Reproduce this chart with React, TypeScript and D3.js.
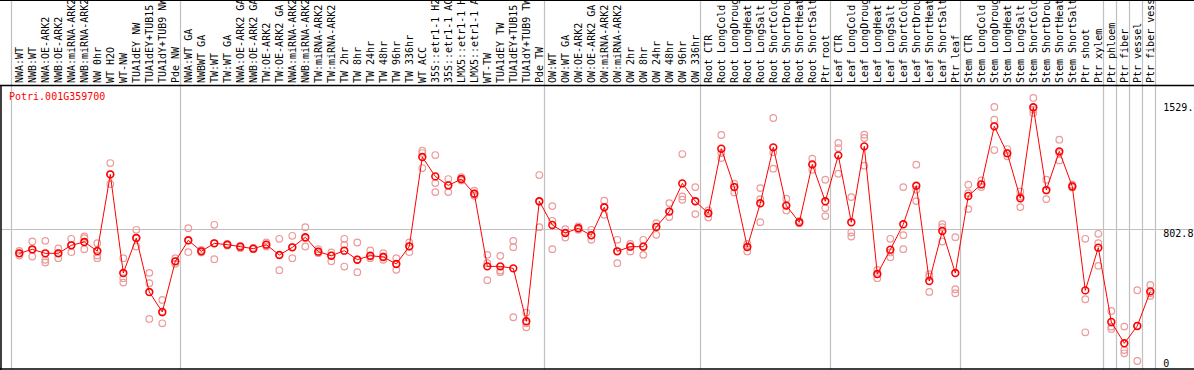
import * as d3 from 'd3';
import React, { useEffect, useRef } from 'react';

const geneId = 'Potri.001G359700';

const labels = [
  'NWA:WT', 'NWB:WT', 'NWA:OE-ARK2', 'NWB:OE-ARK2', 'NWA:miRNA-ARK2', 'NWB:miRNA-ARK2',
  'NW 0hr', 'WT H2O', 'WT-NW', 'TUA1dEY NW', 'TUA1dEY+TUB15 NW', 'TUA1dY+TUB9 NW', 'Pde NW',
  'NWA:WT GA', 'NWBWT GA', 'TW:WT', 'TW:WT GA', 'NWA:OE-ARK2 GA', 'NWB:OE-ARK2 GA',
  'TW:OE-ARK2', 'TW:OE-ARK2 GA', 'NWA:miRNA-ARK2', 'NWB:miRNA-ARK2', 'TW:miRNA-ARK2',
  'TW:miRNA-ARK2', 'TW 2hr', 'TW 8hr', 'TW 24hr', 'TW 48hr', 'TW 96hr', 'TW 336hr', 'WT ACC',
  '35S::etr1-1 H2O', '35S::etr1-1 ACC', 'LMX5::etr1-1 H2O', 'LMX5::etr1-1 ACC', 'WT-TW',
  'TUA1dEY TW', 'TUA1dEY+TUB15 TW', 'TUA1dY+TUB9 TW', 'Pde TW',
  'OW:WT', 'OW:WT GA', 'OW:OE-ARK2', 'OW:OE-ARK2 GA', 'OW:miRNA-ARK2', 'OW:miRNA-ARK2',
  'OW 2hr', 'OW 8hr', 'OW 24hr', 'OW 48hr', 'OW 96hr', 'OW 336hr',
  'Root CTR', 'Root LongCold', 'Root LongDrought', 'Root LongHeat', 'Root LongSalt',
  'Root ShortCold', 'Root ShortDrought', 'Root ShortHeat', 'Root ShortSalt', 'Ptr root',
  'Leaf CTR', 'Leaf LongCold', 'Leaf LongDrought', 'Leaf LongHeat', 'Leaf LongSalt',
  'Leaf ShortCold', 'Leaf ShortDrought', 'Leaf ShortHeat', 'Leaf ShortSalt', 'Ptr leaf',
  'Stem CTR', 'Stem LongCold', 'Stem LongDrought', 'Stem LongHeat', 'Stem LongSalt',
  'Stem ShortCold', 'Stem ShortDrought', 'Stem ShortHeat', 'Stem ShortSalt',
  'Ptr shoot', 'Ptr xylem', 'Ptr phloem', 'Ptr fiber', 'Ptr vessel', 'Ptr fiber vessel',
];

// mean expression per sample
const meanValues = [
  654, 678, 654, 654, 702, 722, 668, 1127, 536, 746, 422, 303, 606,
  732, 666, 714, 706, 694, 682, 706, 644, 690, 750, 664, 640, 670, 616, 640, 632, 590, 696,
  1231, 1115, 1061, 1099, 1011, 576, 576, 564, 247, 966,
  824, 776, 804, 762, 930, 666, 694, 694, 812, 904, 1073, 966,
  894, 1281, 1051, 692, 954, 1289, 940, 840, 1187, 966,
  1241, 840, 1295, 530, 676, 828, 1059, 488, 788, 536,
  998, 1067, 1415, 1253, 984, 1529, 1033, 1265, 1055,
  432, 688, 243, 115, 219, 426,
];

// replicate values per sample
const replicateValues = [
  [669, 655, 641], [725, 675, 635], [729, 615, 599], [683, 655, 625], [741, 703, 661],
  [755, 745, 679], [715, 641, 625], [1195, 1129, 1069], [625, 505, 479], [795, 747, 695],
  [537, 475, 261], [375, 299, 235], [625, 607, 591], [805, 731, 661], [675, 667, 659],
  [825, 715, 619], [711, 707, 701], [699, 695, 685], [687, 683, 679], [719, 707, 695],
  [741, 645, 553], [759, 691, 625], [811, 745, 695], [679, 665, 655], [659, 641, 607],
  [741, 705, 575], [719, 617, 541], [671, 635, 625], [655, 635, 615], [625, 591, 555],
  [719, 695, 661], [1269, 1255, 1165], [1243, 1075, 1021], [1099, 1063, 1021], [1111, 1101, 1091],
  [1029, 1013, 999], [645, 595, 493], [639, 551, 541], [729, 691, 271], [299, 235, 211],
  [1123, 963, 811], [937, 849, 679], [799, 777, 749], [815, 805, 795], [795, 763, 735],
  [969, 931, 885], [735, 667, 595], [711, 695, 665], [735, 695, 645], [835, 813, 765],
  [955, 905, 871], [1249, 995, 975], [1051, 967, 889], [911, 895, 869], [1363, 1255, 1225],
  [1071, 1053, 1019], [711, 693, 665], [1045, 979, 841], [1465, 1259, 1161], [981, 941, 911],
  [849, 841, 835], [1221, 1185, 1155], [1095, 925, 877], [1315, 1285, 1131], [991, 779, 755],
  [1365, 1345, 1179], [555, 529, 505], [741, 659, 631], [1051, 763, 679], [1185, 1035, 967],
  [529, 515, 423], [829, 811, 725], [751, 439, 415], [1065, 1015, 919], [1091, 1069, 1051],
  [1531, 1455, 1273], [1279, 1255, 1235], [1025, 995, 931], [1585, 1515, 1495], [1095, 1031, 979],
  [1335, 1255, 1211], [1065, 1057, 1049], [741, 379, 181], [771, 715, 579], [309, 215, 201],
  [215, 75, 55], [433, 219, 9], [465, 415, 399],
];

// sample index where each gray group separator sits
const groupStarts = [0, 13, 41, 53, 63, 73, 84, 85, 86, 87, 88];

const yTicks = [1529.4, 802.8, 0];
const yTickLabels = ['1529.4', '802.8', '0'];

const App = () => {
  const ref = useRef(null);

  useEffect(() => {
    const width = 1194, height = 370;
    const headerBottom = 85.5;
    const plotRight = 1155.3;
    const mono = '"DejaVu Sans Mono", monospace';

    const svg = d3.select(ref.current);
    svg.selectAll('*').remove();
    svg.attr('width', width).attr('height', height);

    svg.append('rect').attr('width', width).attr('height', height).attr('fill', '#fff');

    const x = d3.scaleBand()
      .domain(d3.range(labels.length))
      .range([11.3, plotRight]);
    const px = i => x(i) + 8;

    const y = d3.scaleLinear().domain([0, 1529]).range([362.5, 107.3]);

    // gray separators
    svg.selectAll('.sep')
      .data(groupStarts)
      .join('line')
      .attr('x1', d => Math.round(d === labels.length ? plotRight : x(d)) + 0.5)
      .attr('x2', d => Math.round(d === labels.length ? plotRight : x(d)) + 0.5)
      .attr('y1', 0)
      .attr('y2', height)
      .attr('stroke', '#c0c0c0')
      .attr('stroke-width', 1.2);

    // gridline at middle tick
    svg.append('line')
      .attr('x1', 1).attr('x2', width)
      .attr('y1', Math.round(y(802.8)) + 0.5).attr('y2', Math.round(y(802.8)) + 0.5)
      .attr('stroke', '#c0c0c0').attr('stroke-width', 1.2);

    // borders
    svg.append('line').attr('x1', 0).attr('x2', width).attr('y1', 0.5).attr('y2', 0.5)
      .attr('stroke', '#000');
    svg.append('line').attr('x1', 0).attr('x2', width).attr('y1', headerBottom).attr('y2', headerBottom)
      .attr('stroke', '#000').attr('stroke-width', 1.5);
    svg.append('line').attr('x1', 0).attr('x2', width).attr('y1', 369).attr('y2', 369)
      .attr('stroke', '#000').attr('stroke-width', 1.5);
    svg.append('line').attr('x1', 1).attr('x2', 1).attr('y1', headerBottom).attr('y2', height)
      .attr('stroke', '#000').attr('stroke-width', 1.5);

    // sample labels
    svg.selectAll('.lbl')
      .data(labels)
      .join('text')
      .attr('transform', (d, i) => `translate(${px(i) + 4},83) rotate(-90)`)
      .attr('font-family', mono)
      .attr('font-size', 10)
      .attr('fill', '#000')
      .text(d => d);

    // gene id
    svg.append('text')
      .attr('x', 9).attr('y', 100)
      .attr('font-family', mono).attr('font-size', 10)
      .attr('fill', '#ff0000')
      .text(geneId);

    // y labels on the right
    svg.selectAll('.ytick')
      .data(yTicks)
      .join('text')
      .attr('x', 1163.3)
      .attr('y', (d, i) => y(d) + (i === 1 ? 8 : 4))
      .attr('font-family', mono).attr('font-size', 10)
      .attr('fill', '#000')
      .text((d, i) => yTickLabels[i]);

    // replicates
    const reps = replicateValues.flatMap((arr, i) => arr.map(v => ({ i, v })));
    svg.selectAll('.rep')
      .data(reps)
      .join('circle')
      .attr('cx', d => px(d.i))
      .attr('cy', d => y(d.v))
      .attr('r', 3.3)
      .attr('fill', 'none')
      .attr('stroke', '#ec9a9a')
      .attr('stroke-width', 1.2);

    // mean line
    svg.append('path')
      .datum(meanValues)
      .attr('fill', 'none')
      .attr('stroke', '#ff0000')
      .attr('stroke-width', 1)
      .attr('d', d3.line().x((d, i) => px(i)).y(d => y(d)));

    svg.selectAll('.mean')
      .data(meanValues)
      .join('circle')
      .attr('cx', (d, i) => px(i))
      .attr('cy', d => y(d))
      .attr('r', 3.4)
      .attr('fill', 'none')
      .attr('stroke', '#ff0000')
      .attr('stroke-width', 1.6);
  }, []);

  return (
    <svg ref={ref} style={{ position: 'absolute', left: 0, top: 0, display: 'block' }}></svg>
  );
};

export default App;
